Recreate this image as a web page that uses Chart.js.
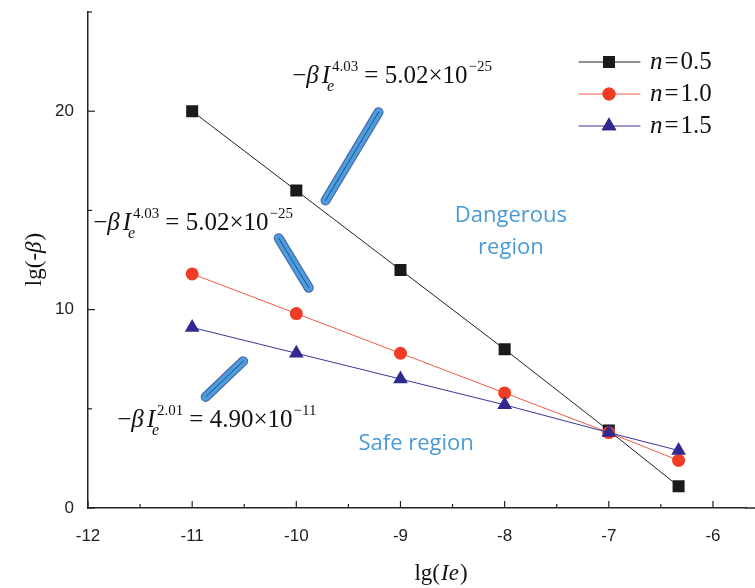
<!DOCTYPE html>
<html>
<head>
<meta charset="utf-8">
<script src="https://cdn.jsdelivr.net/npm/chart.js@4/dist/chart.umd.min.js"></script>
<style>
  html, body { margin: 0; padding: 0; background: #fff; overflow: hidden; }
  #wrap { width: 755px; height: 588px; position: relative; }
</style>
</head>
<body>
<div id="wrap"><canvas id="c"></canvas></div>
<script>
// data
const xValues = [-11, -10, -9, -8, -7, -6.33];
const seriesNames = ['0.5', '1.0', '1.5'];
const yN05 = [20.0, 16.0, 12.0, 8.0, 3.9, 1.1];
const yN10 = [11.8, 9.8, 7.8, 5.8, 3.8, 2.4];
const yN15 = [9.1, 7.8, 6.5, 5.2, 3.8, 2.9];
const xTicks = [-12, -11, -10, -9, -8, -7, -6];
const yTicks = [0, 10, 20];

// annotations (data coordinates)
const strokes = [
    [[-9.72, 15.5], [-9.21, 19.95]],
    [[-10.17, 13.6], [-9.88, 11.1]],
    [[-10.87, 5.6], [-10.51, 7.4]]
];
const formulas = [
    { x: -10.04, y: 21.4, exp: '4.03', coef: '5.02', pow: '\u221225' },
    { x: -11.95, y: 14.0, exp: '4.03', coef: '5.02', pow: '\u221225' },
    { x: -11.72, y: 4.1, exp: '2.01', coef: '4.90', pow: '\u221211' }
];
const regionLabels = [
    { x: -7.94, y: 14.75, text: 'Dangerous' },
    { x: -7.94, y: 13.1, text: 'region' },
    { x: -8.85, y: 3.25, text: 'Safe region' }
];

const colors = ['#1a1a1a', '#f03c24', '#302a90'];
const lineColors = ['#222222', '#f05a44', '#3a3496'];
const markers = ['rect', 'circle', 'triangle'];
const markerSize = [8.5, 6.5, 8.5];
const serif = '"Liberation Serif", "DejaVu Serif", serif';
const sans = '"Liberation Sans", Arial, sans-serif';

function toPoints(ys) {
    return xValues.map((x, i) => ({ x: x, y: ys[i] }));
}

function drawFormula(ctx, x, y, f) {
    ctx.save();
    ctx.textBaseline = 'alphabetic';
    ctx.textAlign = 'left';
    ctx.fillStyle = '#111';
    let cx = x;
    const put = (txt, font) => {
        ctx.font = font;
        ctx.fillText(txt, cx, y);
        cx += ctx.measureText(txt).width;
    };
    put('\u2212', '25px ' + serif);
    put('\u03B2', 'italic 25px ' + serif);
    cx += 3;
    put('I', 'italic 25px ' + serif);
    const sx = cx;
    ctx.font = '15px ' + serif;
    ctx.fillText(f.exp, sx + 2, y - 12);
    const w1 = ctx.measureText(f.exp).width;
    ctx.font = 'italic 16px ' + serif;
    ctx.fillText('e', sx - 3, y + 8);
    cx = sx + w1 + 8;
    put('= ' + f.coef + '\u00D7' + '10', '25px ' + serif);
    ctx.font = '15px ' + serif;
    ctx.fillText(f.pow, cx + 1, y - 12);
    ctx.restore();
}

const decor = {
    id: 'decor',
    afterDraw(chart) {
        const ctx = chart.ctx;
        const xs = chart.scales.x, ys = chart.scales.y;
        const area = chart.chartArea;
        ctx.save();

        // x axis line runs on to the right edge
        ctx.strokeStyle = '#222';
        ctx.lineWidth = 1.5;
        ctx.beginPath();
        ctx.moveTo(area.right - 1, area.bottom);
        ctx.lineTo(chart.width, area.bottom);
        ctx.stroke();

        // inward ticks
        ctx.lineWidth = 1.2;
        for (let v = -12; v <= -5.6; v += 0.5) {
            const px = xs.getPixelForValue(v);
            const len = Number.isInteger(v) ? 7 : 4;
            ctx.beginPath();
            ctx.moveTo(px, area.bottom);
            ctx.lineTo(px, area.bottom - len);
            ctx.stroke();
        }
        for (let v = 0; v <= 25; v += 5) {
            const py = ys.getPixelForValue(v);
            const len = v % 10 === 0 ? 7 : 4;
            ctx.beginPath();
            ctx.moveTo(area.left, py);
            ctx.lineTo(area.left + len, py);
            ctx.stroke();
        }

        // blue strokes
        strokes.forEach(s => {
            const x1 = xs.getPixelForValue(s[0][0]), y1 = ys.getPixelForValue(s[0][1]);
            const x2 = xs.getPixelForValue(s[1][0]), y2 = ys.getPixelForValue(s[1][1]);
            ctx.lineCap = 'round';
            [[10, '#4f68b0'], [7.5, '#4b9ddc'], [1, '#1d4e88']].forEach(([w, c]) => {
                ctx.lineWidth = w;
                ctx.strokeStyle = c;
                ctx.beginPath();
                ctx.moveTo(x1, y1);
                ctx.lineTo(x2, y2);
                ctx.stroke();
            });
        });

        // formulas
        formulas.forEach(f => {
            drawFormula(ctx, xs.getPixelForValue(f.x), ys.getPixelForValue(f.y), f);
        });

        // region labels
        ctx.fillStyle = '#4a9ad6';
        ctx.font = '22px "Open Sans", ' + sans;
        ctx.textAlign = 'center';
        ctx.textBaseline = 'middle';
        regionLabels.forEach(r => {
            ctx.fillText(r.text, xs.getPixelForValue(r.x), ys.getPixelForValue(r.y));
        });

        // legend
        const lx = 579, ly = [62, 94, 126];
        seriesNames.forEach((name, i) => {
            const y = ly[i];
            ctx.strokeStyle = lineColors[i];
            ctx.lineWidth = 1;
            ctx.beginPath();
            ctx.moveTo(lx, y);
            ctx.lineTo(lx + 61, y);
            ctx.stroke();
            ctx.fillStyle = colors[i];
            Chart.helpers.drawPoint(ctx, { pointStyle: markers[i], radius: markerSize[i], borderWidth: 0 }, lx + 30, y);
            ctx.fill();
            ctx.fillStyle = '#111';
            ctx.textAlign = 'left';
            ctx.textBaseline = 'middle';
            let tx = 650;
            ctx.font = 'italic 25px ' + serif;
            ctx.fillText('n', tx, y);
            tx += ctx.measureText('n').width + 2;
            ctx.font = '25px ' + serif;
            ctx.fillText('=', tx, y);
            tx += ctx.measureText('=').width + 2;
            ctx.fillText(name, tx, y);
        });

        // axis titles
        ctx.fillStyle = '#111';
        ctx.textBaseline = 'alphabetic';
        ctx.textAlign = 'left';
        const t1 = 'lg(', t2 = 'Ie', t3 = ')';
        ctx.font = '23px ' + serif;
        const w1 = ctx.measureText(t1).width, w3 = ctx.measureText(t3).width;
        ctx.font = 'italic 23px ' + serif;
        const w2 = ctx.measureText(t2).width;
        const tx = 440 - (w1 + w2 + w3) / 2;
        ctx.font = '23px ' + serif;
        ctx.fillText(t1, tx, 580);
        ctx.font = 'italic 23px ' + serif;
        ctx.fillText(t2, tx + w1 + 1, 580);
        ctx.font = '23px ' + serif;
        ctx.fillText(t3, tx + w1 + w2 + 2, 580);

        ctx.translate(41, 260);
        ctx.rotate(-Math.PI / 2);
        const a1 = 'lg(-', a2 = '\u03B2', a3 = ')';
        ctx.font = '23px ' + serif;
        const b1 = ctx.measureText(a1).width, b3 = ctx.measureText(a3).width;
        ctx.font = 'italic 23px ' + serif;
        const b2 = ctx.measureText(a2).width;
        const ty = -(b1 + b2 + b3) / 2;
        ctx.font = '23px ' + serif;
        ctx.fillText(a1, ty, 0);
        ctx.font = 'italic 23px ' + serif;
        ctx.fillText(a2, ty + b1, 0);
        ctx.font = '23px ' + serif;
        ctx.fillText(a3, ty + b1 + b2 + 1, 0);
        ctx.restore();
    }
};

function makeSet(i, ys) {
    return {
        label: 'n=' + seriesNames[i],
        data: toPoints(ys),
        showLine: true,
        order: 3 - i,
        borderColor: lineColors[i],
        borderWidth: 1,
        backgroundColor: colors[i],
        pointBackgroundColor: colors[i],
        pointBorderWidth: 0,
        pointStyle: markers[i],
        pointRadius: markerSize[i],
        tension: 0
    };
}

new Chart(document.getElementById('c'), {
    type: 'scatter',
    data: {
        datasets: [makeSet(0, yN05), makeSet(1, yN10), makeSet(2, yN15)]
    },
    options: {
        responsive: true,
        maintainAspectRatio: false,
        animation: false,
        layout: { padding: { top: 12, right: 0, left: 0, bottom: 0 } },
        plugins: {
            legend: { display: false },
            tooltip: { enabled: false }
        },
        scales: {
            x: {
                type: 'linear',
                min: -12,
                max: -5.678,
                afterBuildTicks: s => { s.ticks = xTicks.map(v => ({ value: v })); },
                afterFit: s => { s.height = 80; s.paddingLeft = 0; s.paddingRight = 0; },
                grid: { display: false },
                border: { display: true, color: '#222', width: 1.5 },
                ticks: { color: '#222', font: { family: sans, size: 17 }, padding: 10, maxRotation: 0 }
            },
            y: {
                min: 0,
                max: 25,
                afterBuildTicks: s => { s.ticks = yTicks.map(v => ({ value: v })); },
                afterFit: s => { s.width = 88; s.paddingTop = 0; s.paddingBottom = 0; },
                grid: { display: false },
                border: { display: true, color: '#222', width: 1.5 },
                ticks: { color: '#222', font: { family: sans, size: 17 }, padding: 6 }
            }
        }
    },
    plugins: [decor]
});
</script>
</body>
</html>
